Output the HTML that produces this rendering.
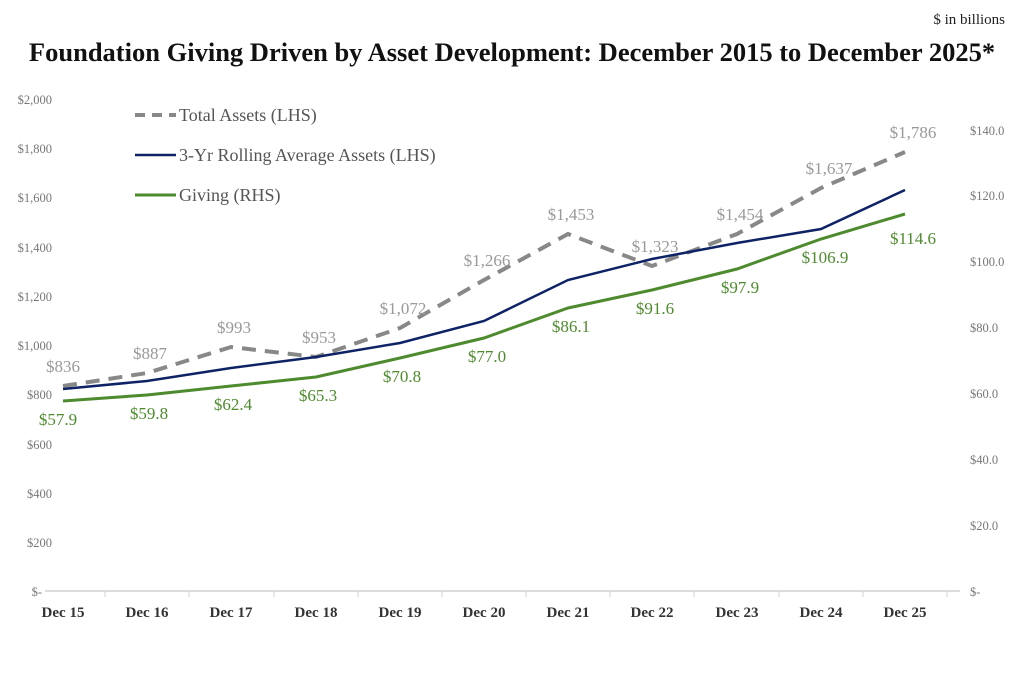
<!DOCTYPE html>
<html><head><meta charset="utf-8"><style>
body{margin:0;background:#fff;}
svg text{font-family:"Liberation Serif",serif;}
</style></head><body>
<svg width="1024" height="679" viewBox="0 0 1024 679" xmlns="http://www.w3.org/2000/svg">
<text x="1005" y="24" font-size="15" text-anchor="end" fill="#222">$ in billions</text>
<text x="512" y="61" font-size="26.5" font-weight="bold" text-anchor="middle" fill="#111">Foundation Giving Driven by Asset Development: December 2015 to December 2025*</text>
<g font-size="12.5" fill="#777" text-anchor="end">
<text x="52" y="104">$2,000</text><text x="52" y="153">$1,800</text><text x="52" y="202">$1,600</text>
<text x="52" y="252">$1,400</text><text x="52" y="301">$1,200</text><text x="52" y="350">$1,000</text>
<text x="52" y="399">$800</text><text x="52" y="449">$600</text><text x="52" y="498">$400</text>
<text x="52" y="547">$200</text><text x="42" y="596">$-</text>
</g>
<g font-size="12.5" fill="#777" text-anchor="start">
<text x="970" y="135">$140.0</text><text x="970" y="200">$120.0</text><text x="970" y="266">$100.0</text>
<text x="970" y="332">$80.0</text><text x="970" y="398">$60.0</text><text x="970" y="464">$40.0</text>
<text x="970" y="530">$20.0</text><text x="970" y="596">$-</text>
</g>
<line x1="45" y1="591" x2="960" y2="591" stroke="#d0d0d0" stroke-width="1.5"/>
<g stroke="#d0d0d0" stroke-width="1">
<line x1="105" y1="591" x2="105" y2="597"/><line x1="189" y1="591" x2="189" y2="597"/><line x1="274" y1="591" x2="274" y2="597"/><line x1="358" y1="591" x2="358" y2="597"/><line x1="442" y1="591" x2="442" y2="597"/><line x1="526" y1="591" x2="526" y2="597"/><line x1="610" y1="591" x2="610" y2="597"/><line x1="694" y1="591" x2="694" y2="597"/><line x1="779" y1="591" x2="779" y2="597"/><line x1="863" y1="591" x2="863" y2="597"/><line x1="947" y1="591" x2="947" y2="597"/>
</g>
<g font-size="15" font-weight="bold" fill="#333" text-anchor="middle">
<text x="63" y="617">Dec 15</text><text x="147" y="617">Dec 16</text><text x="231" y="617">Dec 17</text><text x="316" y="617">Dec 18</text><text x="400" y="617">Dec 19</text><text x="484" y="617">Dec 20</text><text x="568" y="617">Dec 21</text><text x="652" y="617">Dec 22</text><text x="737" y="617">Dec 23</text><text x="821" y="617">Dec 24</text><text x="905" y="617">Dec 25</text>
</g>
<polyline fill="none" stroke="#888" stroke-width="4" stroke-dasharray="14,9" points="63,386 147,373 231,347 316,357 400,328 484,280 568,234 652,266 737,234 821,188 905,152"/>
<polyline fill="none" stroke="#0e2366" stroke-width="2.5" points="63,389 147,381 231,368 316,357 400,343 484,321 568,280 652,259 737,243 821,229 905,190"/>
<polyline fill="none" stroke="#4e8a2e" stroke-width="3" points="63,401 147,395 231,386 316,377 400,358 484,338 568,308 652,290 737,269 821,239 905,214"/>
<g font-size="17" fill="#999" text-anchor="middle">
<text x="63" y="372">$836</text><text x="150" y="359">$887</text><text x="234" y="333">$993</text><text x="319" y="343">$953</text><text x="403" y="314">$1,072</text><text x="487" y="266">$1,266</text><text x="571" y="220">$1,453</text><text x="655" y="252">$1,323</text><text x="740" y="220">$1,454</text><text x="829" y="174">$1,637</text><text x="913" y="138">$1,786</text>
</g>
<g font-size="17" fill="#4e8a2e" text-anchor="middle">
<text x="58" y="425">$57.9</text><text x="149" y="419">$59.8</text><text x="233" y="410">$62.4</text><text x="318" y="401">$65.3</text><text x="402" y="382">$70.8</text><text x="487" y="362">$77.0</text><text x="571" y="332">$86.1</text><text x="655" y="314">$91.6</text><text x="740" y="293">$97.9</text><text x="825" y="263">$106.9</text><text x="913" y="244">$114.6</text>
</g>
<line x1="135" y1="115" x2="176" y2="115" stroke="#888" stroke-width="4" stroke-dasharray="10,7"/>
<line x1="135" y1="155" x2="176" y2="155" stroke="#0e2366" stroke-width="2.5"/>
<line x1="135" y1="195" x2="176" y2="195" stroke="#4e8a2e" stroke-width="3"/>
<g font-size="18" fill="#555">
<text x="179" y="121">Total Assets (LHS)</text>
<text x="179" y="161">3-Yr Rolling Average Assets (LHS)</text>
<text x="179" y="201">Giving (RHS)</text>
</g>
</svg>
</body></html>
